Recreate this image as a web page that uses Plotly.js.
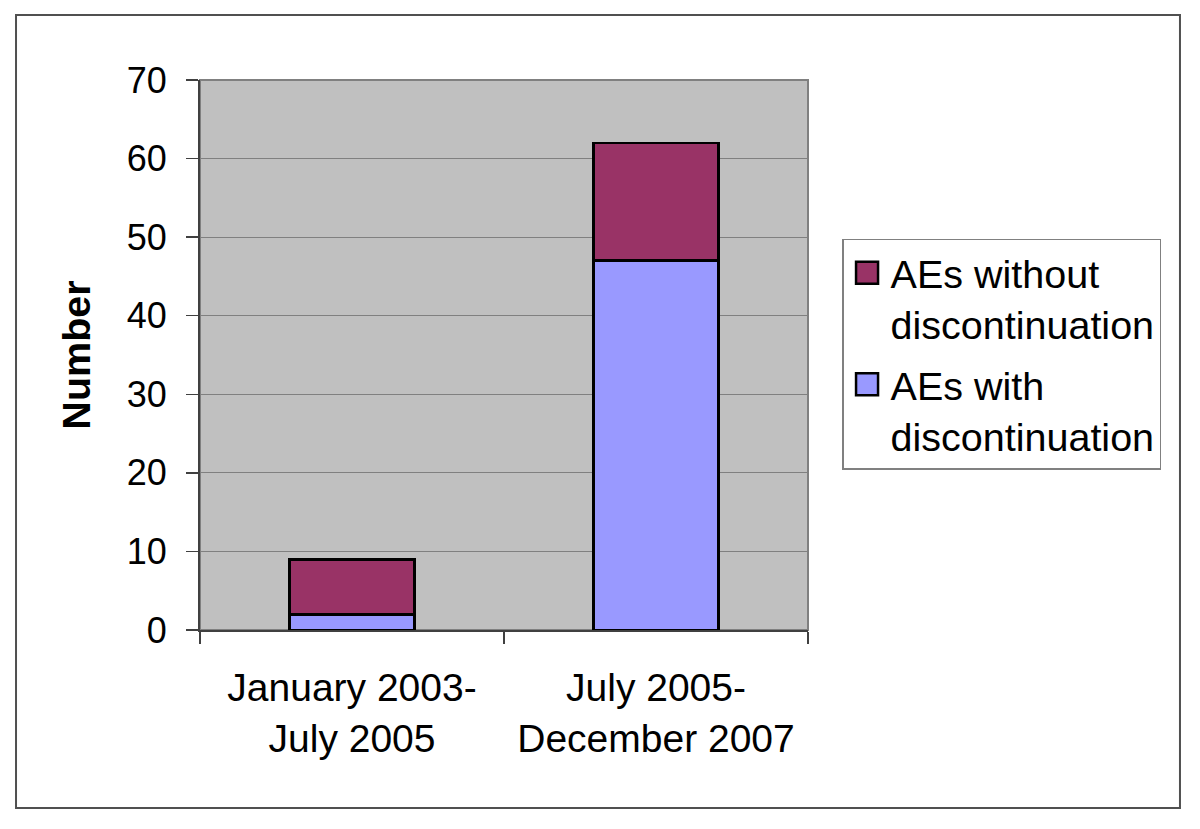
<!DOCTYPE html>
<html>
<head>
<meta charset="utf-8">
<script src="https://cdn.plot.ly/plotly-3.0.1.min.js"></script>
<style>html,body{margin:0;padding:0;background:#fff;}#chart{width:1200px;height:829px;}</style>
</head>
<body>
<div id="chart"></div>
<script>
const categories = ["January 2003-<br>July 2005", "July 2005-<br>December 2007"];
const withDiscontinuation = [2, 47];
const withoutDiscontinuation = [7, 15];
const seriesNames = ["AEs with<br>discontinuation", "AEs without<br>discontinuation"];
const yTicks = [0, 10, 20, 30, 40, 50, 60, 70];

const FONT = "Liberation Sans, Arial, Helvetica, sans-serif";

const traces = [
  {
    type: "bar", x: categories, y: withDiscontinuation, name: seriesNames[0],
    legendgroup: "with", legendrank: 2,
    marker: {color: "#9999FF", line: {color: "#000000", width: 2.5}}
  },
  {
    type: "bar", x: categories, y: withoutDiscontinuation, name: seriesNames[1],
    legendgroup: "without", legendrank: 1,
    marker: {color: "#993366", line: {color: "#000000", width: 2.5}}
  }
];

const layout = {
  width: 1200, height: 829,
  margin: {l: 200, r: 392, t: 80, b: 199},
  paper_bgcolor: "#ffffff",
  plot_bgcolor: "#C0C0C0",
  barmode: "stack",
  bargap: 0.59,
  font: {family: FONT, size: 36, color: "#000000"},
  showlegend: true,
  legend: {
    x: 1.056, y: 0.711, xanchor: "left", yanchor: "top",
    traceorder: "grouped",
    bordercolor: "#808080", borderwidth: 1.5, bgcolor: "#ffffff",
    font: {family: FONT, size: 39.5, color: "#000000"},
    valign: "top", itemwidth: 37, tracegroupgap: 6
  },
  xaxis: {
    type: "category",
    ticks: "outside", ticklen: 12, tickwidth: 1.5, tickcolor: "#404040",
    tickson: "boundaries",
    showline: true, linecolor: "#404040", linewidth: 2,
    showgrid: false, zeroline: false,
    tickfont: {family: FONT, size: 39},
    ticklabelstandoff: 22,
    fixedrange: true
  },
  yaxis: {
    range: [0, 70], tickvals: yTicks, ticktext: yTicks.map(String),
    ticks: "outside", ticklen: 12, tickwidth: 1.5, tickcolor: "#404040",
    showline: true, linecolor: "#404040", linewidth: 2,
    showgrid: true, gridcolor: "#808080", gridwidth: 1.2,
    zeroline: false,
    tickfont: {family: FONT, size: 36},
    ticklabelstandoff: 12,
    title: {text: "<b>Number</b>", font: {family: FONT, size: 39.5}, standoff: 24},
    fixedrange: true
  },
  shapes: [
    {type: "rect", xref: "paper", yref: "paper", x0: 0, x1: 1, y0: 0, y1: 1,
     line: {color: "#808080", width: 2}, layer: "below", fillcolor: "rgba(0,0,0,0)"},
    {type: "rect", xref: "paper", yref: "paper", x0: -0.3026, x1: 1.6118, y0: -0.3236, y1: 1.118,
     line: {color: "#505050", width: 2}, fillcolor: "rgba(0,0,0,0)"}
  ]
};

Plotly.newPlot("chart", traces, layout, {displayModeBar: false, staticPlot: true}).then(function () {
  document.querySelectorAll("#chart .legendpoints path").forEach(function (p) {
    p.setAttribute("d", "M11,11H-11V-11H11Z");
    p.style.strokeWidth = "2.5px";
  });
});
</script>
</body>
</html>
